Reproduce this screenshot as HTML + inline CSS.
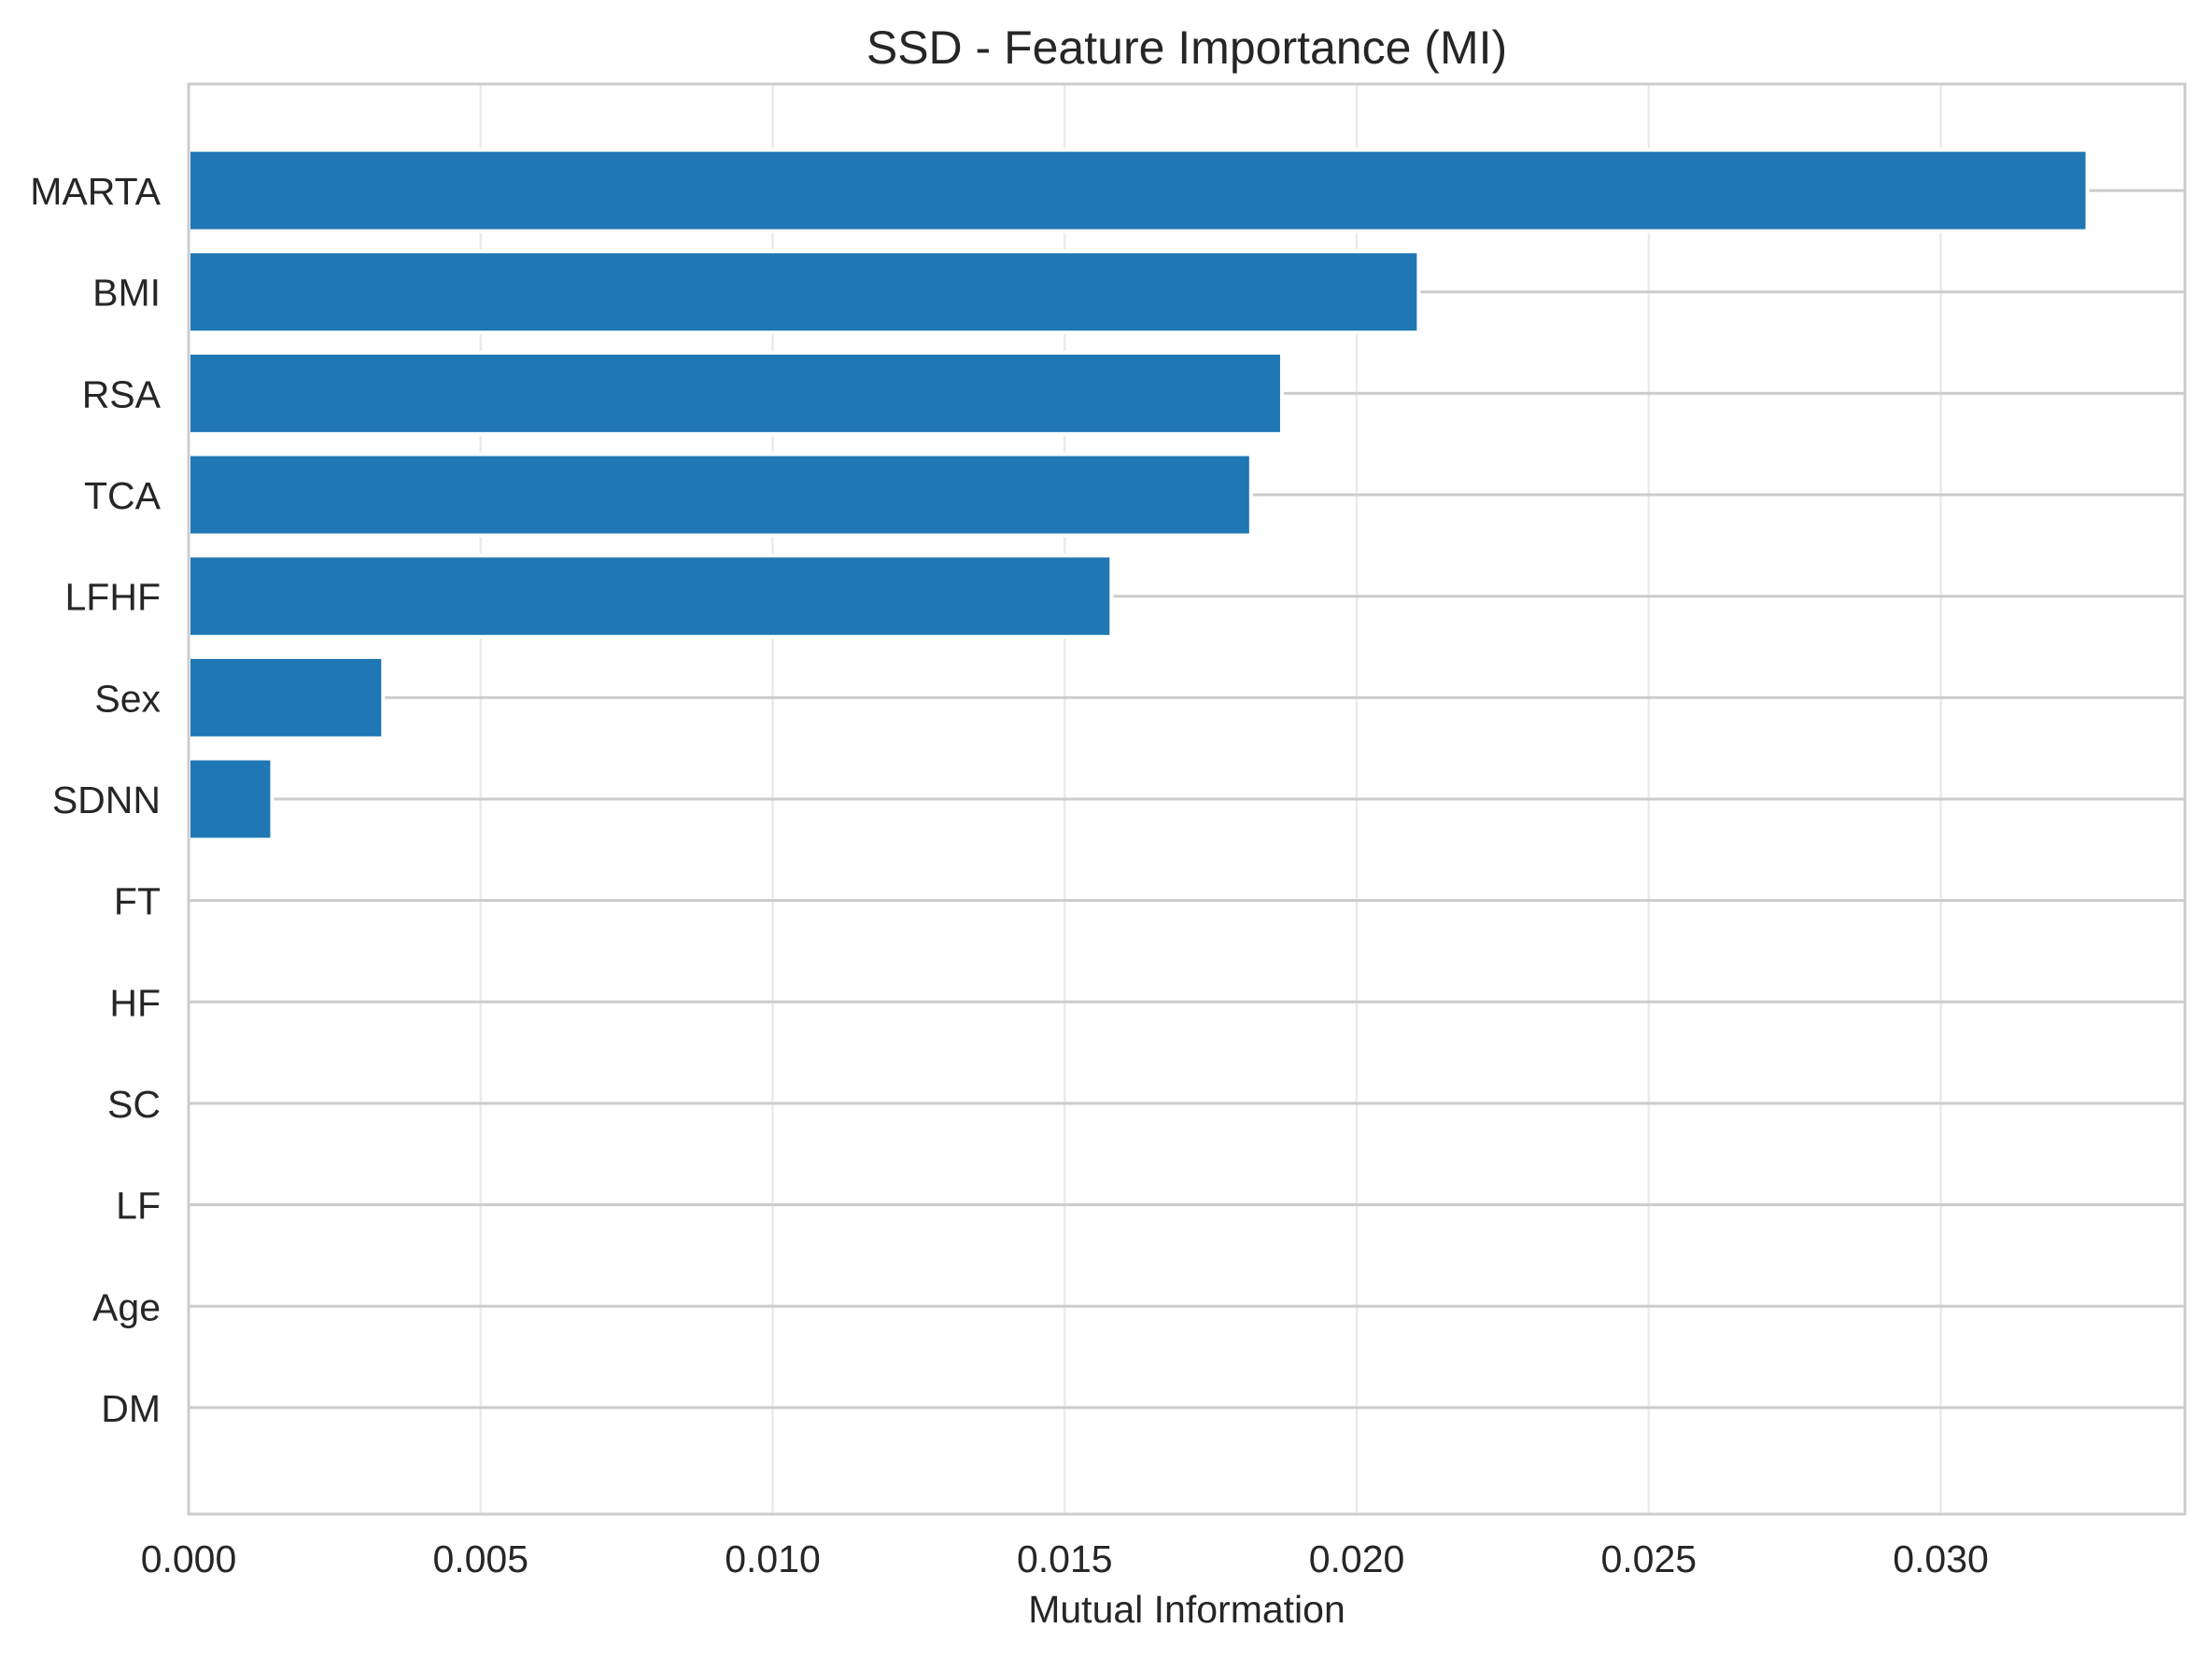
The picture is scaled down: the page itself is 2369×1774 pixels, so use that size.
<!DOCTYPE html>
<html><head><meta charset="utf-8"><style>
body{margin:0;background:#fff}
svg{display:block;font-family:"Liberation Sans",Arial,sans-serif;fill:#262626}
</style></head><body>
<svg id="c" width="2369" height="1774" xmlns="http://www.w3.org/2000/svg">
<rect width="2369" height="1774" fill="#fff"/>
<text x="1271" y="68" font-size="50" text-anchor="middle">SSD - Feature Importance (MI)</text>
<text x="1271" y="1738" font-size="41" text-anchor="middle">Mutual Information</text>
<g id="g"></g>
</svg>
<script>
const categories=["MARTA","BMI","RSA","TCA","LFHF","Sex","SDNN","FT","HF","SC","LF","Age","DM"];
const values=[0.03251,0.02106,0.01872,0.01819,0.01580,0.00333,0.00143,0,0,0,0,0,0];
const xTicks=[0,0.005,0.010,0.015,0.020,0.025,0.030];
const xTickLabels=["0.000","0.005","0.010","0.015","0.020","0.025","0.030"];
const L=202,R=2340,T=90,B=1622,XMAX=0.03418;
const x=v=>L+v/XMAX*(R-L);
const step=(B-T)/(categories.length-1+2.1);
const y=i=>T+step*1.05+i*step;
const g=document.getElementById('g');
const NS="http://www.w3.org/2000/svg";
function mk(t,a){const e=document.createElementNS(NS,t);for(const k in a)e.setAttribute(k,a[k]);g.appendChild(e);return e;}
xTicks.forEach((t,i)=>{
 const l=mk('line',{x1:x(t),x2:x(t),y1:T,y2:B,stroke:'#ebebeb','stroke-width':2.5});
 
 
 const tx=mk('text',{x:x(t),y:B+62,'font-size':41,'text-anchor':'middle'});
 tx.textContent=xTickLabels[i];
 
 
});
categories.forEach((c,i)=>{
 const l=mk('line',{x1:L,x2:R,y1:y(i),y2:y(i),stroke:'#cccccc','stroke-width':3});
 
 
});
categories.forEach((c,i)=>{
 const h=step*0.8;
 if(values[i]>0){
 const r=mk('rect',{x:L,y:y(i)-h/2,width:x(values[i])-L,height:h,fill:'#1f77b4',stroke:'#fff','stroke-width':4});
 
 
 }
 const tx=mk('text',{x:172,y:y(i)+15,'font-size':41,'text-anchor':'end'});
 tx.textContent=c;
 
 
});
const f=mk('rect',{x:L,y:T,width:R-L,height:B-T,fill:'none',stroke:'#cccccc','stroke-width':3});


</script>
</body></html>
